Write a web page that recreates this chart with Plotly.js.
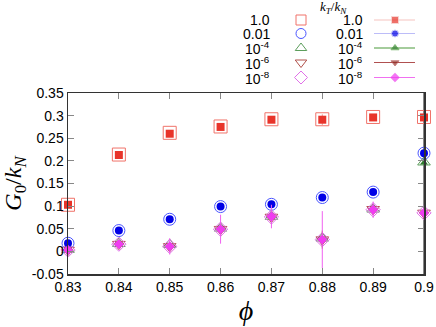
<!DOCTYPE html>
<html>
<head>
<meta charset="utf-8">
<script src="https://cdn.plot.ly/plotly-3.0.1.min.js"></script>
<style>
  html, body { margin: 0; padding: 0; background: #fff; }
  #graph { width: 436px; height: 327px; }
</style>
</head>
<body>
<div id="graph"></div>
<script>
// packing fraction
var phi = [0.83, 0.84, 0.85, 0.86, 0.87, 0.88, 0.89, 0.90]
var kLabels = ['1.0', '0.01', '10<sup>-4</sup>', '10<sup>-6</sup>', '10<sup>-8</sup>']

// first set (open symbols)
var gOpen1 = [0.103, 0.214, 0.262, 0.276, 0.292, 0.292, 0.297, 0.297]
var gOpen2 = [0.018, 0.046, 0.071, 0.099, 0.104, 0.119, 0.131, 0.217]
var gOpen4 = [0.004, 0.017, 0.015, 0.051, 0.077, 0.029, 0.093, 0.197]
var gOpen6 = [0.003, 0.016, 0.011, 0.049, 0.076, 0.026, 0.093, 0.085]
var gOpen8 = [0.003, 0.016, 0.011, 0.049, 0.076, 0.026, 0.092, 0.085]

// second set (filled symbols) + error
var gFill1 = [0.103, 0.213, 0.260, 0.275, 0.291, 0.291, 0.296, 0.296]
var gFill2 = [0.018, 0.046, 0.071, 0.099, 0.104, 0.119, 0.131, 0.217]
var gFill4 = [0.004, 0.016, 0.013, 0.050, 0.077, 0.028, 0.093, 0.196]
var gFill6 = [0.003, 0.016, 0.011, 0.049, 0.076, 0.026, 0.092, 0.085]
var gFill8 = [0.003, 0.016, 0.011, 0.049, 0.077, 0.026, 0.092, 0.085]
var err1 = [0.004, 0.004, 0.006, 0.004, 0.004, 0.012, 0.004, 0.004]
var err2 = [0.003, 0.003, 0.003, 0.004, 0.008, 0.004, 0.003, 0.004]
var err4 = [0.003, 0.005, 0.008, 0.010, 0.010, 0.012, 0.008, 0.004]
var err6 = [0.003, 0.005, 0.008, 0.015, 0.015, 0.020, 0.012, 0.004]
var err8 = [0.003, 0.008, 0.018, 0.032, 0.026, 0.063, 0.018, 0.004]

var xTicks = [0.83, 0.84, 0.85, 0.86, 0.87, 0.88, 0.89, 0.90]
var xTickText = ['0.83', '0.84', '0.85', '0.86', '0.87', '0.88', '0.89', '0.9']
var yTicks = [-0.05, 0, 0.05, 0.1, 0.15, 0.2, 0.25, 0.3, 0.35]
var yTickText = ['-0.05', '0', '0.05', '0.1', '0.15', '0.2', '0.25', '0.3', '0.35']

var openY = [gOpen1, gOpen2, gOpen4, gOpen6, gOpen8]
var fillY = [gFill1, gFill2, gFill4, gFill6, gFill8]
var errs = [err1, err2, err4, err6, err8]

// styles
var openSym = ['square-open', 'circle-open', 'triangle-up-open', 'triangle-down-open', 'diamond-open']
var fillSym = ['square', 'circle', 'triangle-up', 'triangle-down', 'diamond']
var openCol = ['#f0736a', '#4a55ff', '#5c9e5c', '#b0504a', '#e070e8']
var fillCol = ['#e8342a', '#0000e6', '#2e7d2e', '#8e2a20', '#f03cf0']
var errCol = ['#f09a94', '#9a9af8', '#5aa05a', '#b0504a', '#f060f0']
var legLineCol = ['#f6c4c0', '#bcbcf8', '#4a9a3a', '#b05050', '#f070f0']
var openSize = [13, 12, 11, 11, 11]
var fillSize = [8, 8, 7, 7, 8]

// legend placement (pixels inside the legend box)
var legRows = [16, 29.5, 44, 58.5, 73.5]
var legCol1Sym = 233, legCol1Lab = 204, legCol2Lab = 297
var legLine = [306, 327, 347]

var traces = []
for (var i = 0; i < 5; i++) {
  traces.push({
    x: phi, y: openY[i], xaxis: 'x', yaxis: 'y',
    mode: 'markers', cliponaxis: false, showlegend: false,
    marker: {symbol: openSym[i], size: openSize[i], color: openCol[i], line: {width: 1, color: openCol[i]}}
  })
}
for (var i = 0; i < 5; i++) {
  traces.push({
    x: phi, y: fillY[i], xaxis: 'x', yaxis: 'y',
    mode: 'markers', cliponaxis: false, showlegend: false,
    error_y: {type: 'data', array: errs[i], color: errCol[i], thickness: 1, width: 0},
    marker: {symbol: fillSym[i], size: fillSize[i], color: fillCol[i]}
  })
}

// hand made legend (gnuplot style: label then symbol)
var annotations = []
for (var i = 0; i < 5; i++) {
  traces.push({
    x: [legCol1Sym], y: [legRows[i]], xaxis: 'x2', yaxis: 'y2',
    mode: 'markers', showlegend: false, hoverinfo: 'skip',
    marker: {symbol: openSym[i], size: 10, color: openCol[i], line: {width: 1, color: openCol[i]}}
  })
  traces.push({
    x: legLine, y: [legRows[i], legRows[i], legRows[i]], xaxis: 'x2', yaxis: 'y2',
    mode: 'lines+markers', showlegend: false, hoverinfo: 'skip',
    line: {color: legLineCol[i], width: 1.2},
    marker: {symbol: fillSym[i], size: [0, 7, 0], color: fillCol[i]}
  })
  annotations.push({xref: 'x2', yref: 'y2', x: legCol1Lab, y: legRows[i], text: kLabels[i],
    showarrow: false, xanchor: 'right', yanchor: 'middle'})
  annotations.push({xref: 'x2', yref: 'y2', x: legCol2Lab, y: legRows[i], text: kLabels[i],
    showarrow: false, xanchor: 'right', yanchor: 'middle'})
}
annotations.push({xref: 'x2', yref: 'y2', x: 265, y: 3,
  text: '<i>k<sub>T</sub></i>/<i>k<sub>N</sub></i>', showarrow: false,
  xanchor: 'center', yanchor: 'middle',
  font: {family: 'Liberation Serif, serif', size: 13, color: '#000'}})

var layout = {
  width: 436,
  height: 327,
  margin: {l: 68, r: 12, t: 4, b: 53, pad: 0},
  paper_bgcolor: '#fff',
  plot_bgcolor: '#fff',
  showlegend: false,
  font: {family: 'Liberation Sans, Arial, sans-serif', size: 14, color: '#000'},
  xaxis: {
    domain: [0, 1], anchor: 'y',
    range: [0.83, 0.90],
    tickvals: xTicks, ticktext: xTickText,
    ticks: 'inside', ticklen: 6, tickcolor: '#888', tickwidth: 1,
    showline: true, linecolor: '#333', linewidth: 1.5, mirror: 'ticks',
    showgrid: false, zeroline: false, automargin: false,
    title: {text: '<i>ϕ</i>', standoff: 6,
      font: {family: 'Liberation Serif, serif', size: 28, color: '#000'}}
  },
  yaxis: {
    domain: [0, 181 / 270], anchor: 'x',
    range: [-0.05, 0.35],
    tickvals: yTicks, ticktext: yTickText,
    ticks: 'inside', ticklen: 6, tickcolor: '#888', tickwidth: 1,
    showline: true, linecolor: '#333', linewidth: 1.5, mirror: 'ticks',
    showgrid: false, zeroline: false, automargin: false,
    title: {text: '<i>G</i><sub>0</sub>/<i>k<sub>N</sub></i>', standoff: 8,
      font: {family: 'Liberation Serif, serif', size: 24, color: '#000'}}
  },
  xaxis2: {domain: [0, 1], anchor: 'y2', range: [0, 356], visible: false, fixedrange: true},
  yaxis2: {domain: [1 - 85 / 270, 1], anchor: 'x2', range: [85, 0], visible: false, fixedrange: true},
  // right frame edge is grey in the original
  shapes: [{type: 'line', xref: 'x domain', yref: 'y domain', x0: 1, x1: 1, y0: 0, y1: 1,
    line: {color: '#888', width: 2}, layer: 'below'}],
  annotations: annotations
}

Plotly.newPlot('graph', traces, layout, {displayModeBar: false, staticPlot: true})
</script>
</body>
</html>
